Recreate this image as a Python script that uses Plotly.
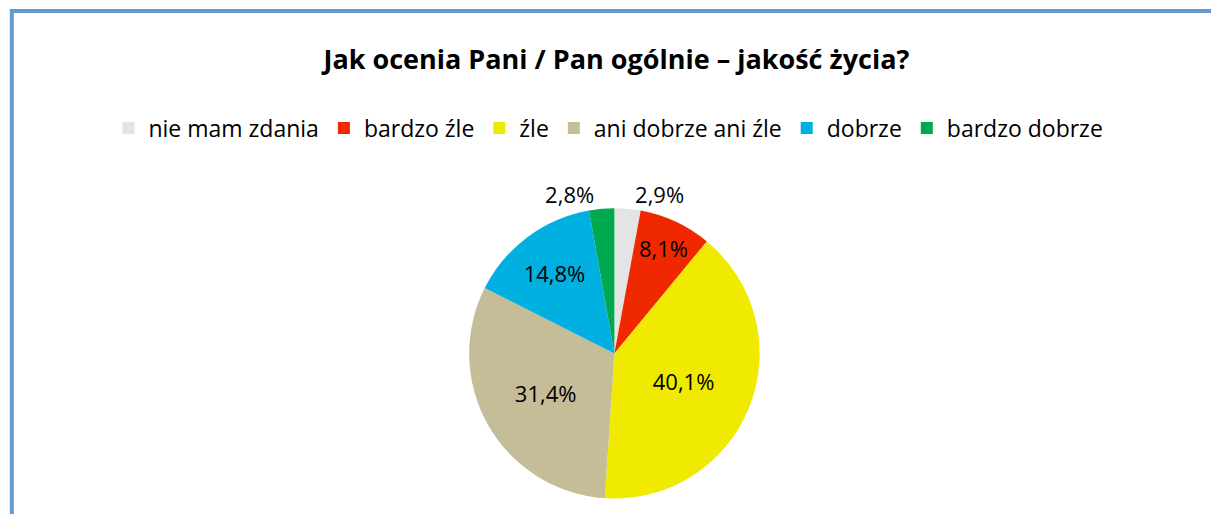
import plotly.graph_objects as go

categories = ["nie mam zdania", "bardzo źle", "źle", "ani dobrze ani źle", "dobrze", "bardzo dobrze"]
values = [2.9, 8.1, 40.1, 31.4, 14.8, 2.8]
colors = ["#E4E4E4", "#F02800", "#F0EA00", "#C4BD97", "#00B0E0", "#00A850"]
text_positions = ["outside", "inside", "inside", "inside", "inside", "outside"]

W, H = 1211, 514
FONT = "Open Sans"

fig = go.Figure(
    go.Pie(
        labels=categories,
        values=values,
        sort=False,
        direction="clockwise",
        rotation=0,
        marker=dict(colors=colors, line=dict(width=0)),
        texttemplate="%{value:.1f}%",
        textposition=text_positions,
        textfont=dict(family=FONT, size=22, color="black"),
        insidetextorientation="horizontal",
        hoverinfo="label+percent",
        domain=dict(x=[0.206, 0.824], y=[0.03, 0.595]),
    )
)

fig.update_layout(
    width=W,
    height=H,
    margin=dict(l=0, r=0, t=0, b=0),
    paper_bgcolor="white",
    plot_bgcolor="white",
    separators=", ",
    font=dict(family=FONT, size=22, color="black"),
    title=dict(
        text="<b>Jak ocenia Pani / Pan ogólnie – jakość życia?</b>",
        x=0.509,
        xanchor="center",
        y=1 - 60 / H,
        yanchor="middle",
        font=dict(family=FONT, size=27, color="black"),
    ),
    legend=dict(
        orientation="h",
        x=0.51,
        xanchor="center",
        y=1 - 128 / H,
        yanchor="middle",
        font=dict(family=FONT, size=23, color="black"),
        traceorder="normal",
        itemwidth=30,
    ),
    shapes=[
        dict(
            type="rect",
            xref="paper",
            yref="paper",
            x0=12 / W,
            x1=1.02,
            y0=-0.02,
            y1=1 - 11 / H,
            line=dict(color="#6699CC", width=4),
            fillcolor="rgba(0,0,0,0)",
            layer="above",
        )
    ],
)

fig.write_html(
    "out.html",
    config={"displayModeBar": False},
    post_script="document.body.style.margin='0';",
)
